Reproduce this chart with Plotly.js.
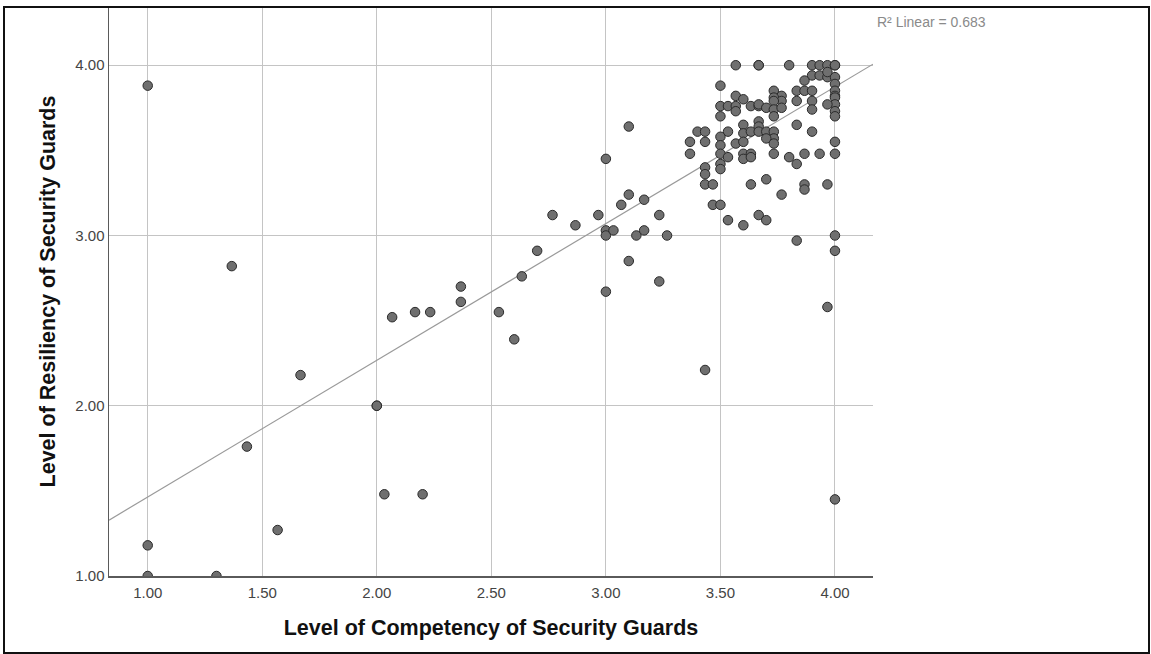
<!DOCTYPE html>
<html>
<head>
<meta charset="utf-8">
<script src="https://cdn.plot.ly/plotly-3.0.1.min.js"></script>
<style>
  html, body { margin: 0; padding: 0; background: #fff; }
  #chart { width: 1151px; height: 654px; }
  #frame { position: absolute; left: 3px; top: 6px; width: 1143px; height: 644px;
           border: 2px solid #111; pointer-events: none; }
</style>
</head>
<body>
<div id="chart"></div>
<div id="frame"></div>
<script>
// Level of Competency of Security Guards (x) and Level of Resiliency (y)
const competency = [
  1.000, 1.000, 1.000, 1.300, 1.367, 1.433, 1.567, 1.667, 2.000, 2.000,
  2.033, 2.200, 2.067, 2.167, 2.233, 2.367, 2.367, 2.533, 2.600, 2.633,
  2.700, 2.767, 2.867, 2.967, 3.000, 3.000, 3.000, 3.033, 3.000, 3.067,
  3.100, 3.100, 3.167, 3.133, 3.167, 3.100, 3.233, 3.267, 3.233,
  3.567, 3.667, 3.667, 3.800, 3.900, 3.933, 3.967, 4.000, 4.000,
  3.900, 3.933, 3.967, 4.000, 3.867, 4.000, 3.967,
  3.500, 3.567, 3.600, 3.733, 3.767, 3.833, 3.867, 3.900, 4.000, 4.000,
  3.733, 3.767, 3.733, 3.833, 3.900, 4.000, 4.000, 3.967,
  3.500, 3.533, 3.567, 3.567, 3.633, 3.667, 3.667, 3.700, 3.733, 3.767,
  3.900, 4.000, 4.000, 3.733, 3.500,
  3.600, 3.667, 3.667, 3.833, 3.533, 3.400, 3.433, 3.600, 3.633, 3.667,
  3.700, 3.733, 3.900, 3.733, 3.700, 3.733,
  3.367, 3.433, 3.500, 3.500, 3.567, 3.600, 4.000,
  3.367, 3.500, 3.533, 3.600, 3.633, 3.733, 3.800, 3.867, 3.933, 4.000,
  3.600, 3.633, 3.500, 3.500, 3.833, 3.433, 3.433,
  3.433, 3.467, 3.633, 3.700, 3.867, 3.867, 3.967, 3.767,
  3.467, 3.500, 3.533, 3.600, 3.667, 3.700, 3.833, 4.000, 4.000, 3.967,
  3.433, 4.000
];
const resiliency = [
  3.88, 1.18, 1.00, 1.00, 2.82, 1.76, 1.27, 2.18, 2.00, 2.00,
  1.48, 1.48, 2.52, 2.55, 2.55, 2.70, 2.61, 2.55, 2.39, 2.76,
  2.91, 3.12, 3.06, 3.12, 3.45, 3.03, 3.00, 3.03, 2.67, 3.18,
  3.24, 3.64, 3.21, 3.00, 3.03, 2.85, 3.12, 3.00, 2.73,
  4.00, 4.00, 4.00, 4.00, 4.00, 4.00, 4.00, 4.00, 4.00,
  3.94, 3.94, 3.93, 3.93, 3.91, 3.89, 3.96,
  3.88, 3.82, 3.80, 3.85, 3.82, 3.85, 3.85, 3.85, 3.85, 3.82,
  3.81, 3.79, 3.79, 3.79, 3.79, 3.81, 3.77, 3.77,
  3.76, 3.76, 3.76, 3.73, 3.76, 3.76, 3.77, 3.75, 3.74, 3.75,
  3.74, 3.73, 3.70, 3.70, 3.70,
  3.65, 3.67, 3.64, 3.65, 3.61, 3.61, 3.61, 3.60, 3.61, 3.61,
  3.61, 3.61, 3.61, 3.57, 3.57, 3.54,
  3.55, 3.55, 3.58, 3.53, 3.54, 3.55, 3.55,
  3.48, 3.48, 3.46, 3.48, 3.48, 3.48, 3.46, 3.48, 3.48, 3.48,
  3.45, 3.46, 3.42, 3.39, 3.42, 3.40, 3.36,
  3.30, 3.30, 3.30, 3.33, 3.30, 3.27, 3.30, 3.24,
  3.18, 3.18, 3.09, 3.06, 3.12, 3.09, 2.97, 3.00, 2.91, 2.58,
  2.21, 1.45
];

// Fitted linear regression
const fitIntercept = 0.661;
const fitSlope = 0.803;
const rSquared = 0.683;

const xRange = [0.831, 4.166];
const yRange = [1.0, 4.342];
const xTickVals = [1.0, 1.5, 2.0, 2.5, 3.0, 3.5, 4.0];
const xTickText = ["1.00", "1.50", "2.00", "2.50", "3.00", "3.50", "4.00"];
const yTickVals = [1, 2, 3, 4];
const yTickText = ["1.00", "2.00", "3.00", "4.00"];

const fitX = xRange.slice();
const fitY = fitX.map(v => fitIntercept + fitSlope * v);

const font = "Liberation Sans, Arial, sans-serif";

const traces = [
  {
    x: fitX, y: fitY, type: "scatter", mode: "lines",
    line: { color: "#9a9a9a", width: 1.2 }, hoverinfo: "skip", showlegend: false
  },
  {
    x: competency, y: resiliency, type: "scatter", mode: "markers",
    marker: { size: 9.5, color: "#6f6f6f", line: { color: "#2a2a2a", width: 1 } },
    showlegend: false
  }
];

const layout = {
  width: 1151, height: 654,
  margin: { l: 109, r: 278, t: 7, b: 78 },
  paper_bgcolor: "#ffffff", plot_bgcolor: "#ffffff",
  font: { family: font, color: "#333" },
  showlegend: false,
  xaxis: {
    range: xRange, tickvals: xTickVals, ticktext: xTickText,
    showgrid: true, gridcolor: "#c4c4c4", gridwidth: 1,
    zeroline: false, showline: true, linecolor: "#5a5a5a", linewidth: 1.5,
    ticks: "", ticklabelstandoff: 2, tickfont: { family: font, size: 15, color: "#444" },
    title: { text: "Level of Competency of Security Guards", standoff: 20,
             font: { family: font, size: 21.5, color: "#111", weight: "bold" } }
  },
  yaxis: {
    range: yRange, tickvals: yTickVals, ticktext: yTickText,
    showgrid: true, gridcolor: "#c4c4c4", gridwidth: 1,
    zeroline: false, showline: true, linecolor: "#5a5a5a", linewidth: 1.5,
    ticks: "", tickfont: { family: font, size: 15, color: "#444" },
    title: { text: "Level of Resiliency of Security Guards", standoff: 14,
             font: { family: font, size: 21.5, color: "#111", weight: "bold" } }
  },
  annotations: [
    {
      xref: "paper", yref: "paper", x: 1.0, y: 1.0, xanchor: "left", yanchor: "top",
      xshift: 2, yshift: -5,
      text: "R² Linear = " + rSquared.toFixed(3), showarrow: false,
      font: { family: font, size: 14, color: "#8a8a8a" }
    }
  ]
};

Plotly.newPlot("chart", traces, layout, { displayModeBar: false, staticPlot: true });
</script>
</body>
</html>
